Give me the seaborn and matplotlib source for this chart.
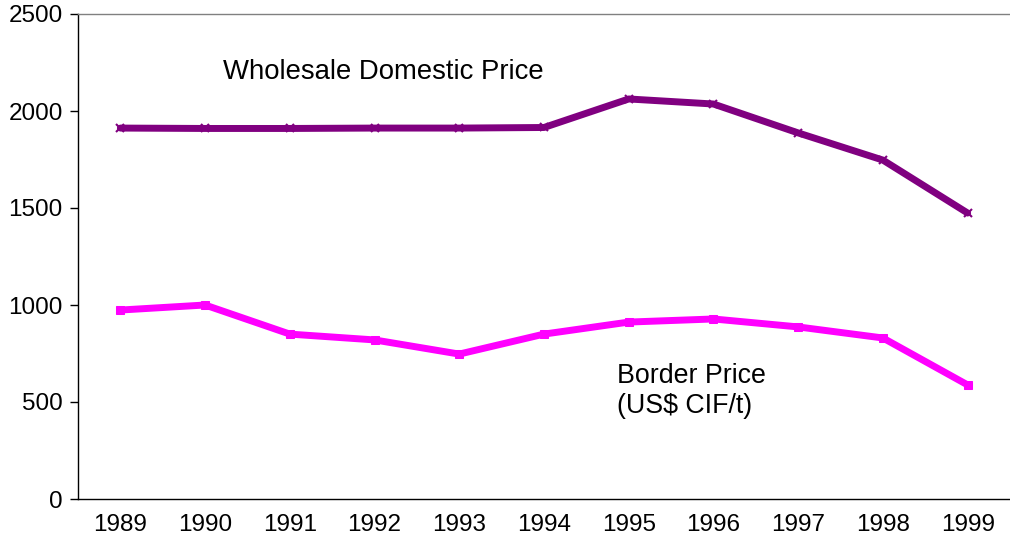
import pandas as pd
import numpy as np
import matplotlib
matplotlib.use("Agg")
import matplotlib.pyplot as plt
import seaborn as sns

years = ['1989', '1990', '1991', '1992', '1993', '1994', '1995', '1996', '1997', '1998', '1999']
wholesale = [1912, 1910, 1910, 1912, 1912, 1915, 2062, 2036, 1887, 1747, 1474]
border = [974, 1000, 850, 820, 747, 850, 912, 928, 887, 830, 588]

df = pd.DataFrame({'Year': years, 'Wholesale': wholesale, 'Border': border})

sns.set_theme(style="white")
plt.rcParams['font.family'] = ['Liberation Sans', 'DejaVu Sans']
plt.rcParams['text.color'] = 'black'

fig = plt.figure(figsize=(10.1, 5.42), dpi=100)
ax = fig.add_axes([78 / 1010, 43 / 542, 932 / 1010, 485 / 542])

sns.lineplot(data=df, x='Year', y='Wholesale', ax=ax, color='#800080', lw=5,
             marker='x', markersize=6, markeredgewidth=1.5, markeredgecolor='#800080')
sns.lineplot(data=df, x='Year', y='Border', ax=ax, color='#FF00FF', lw=5,
             marker='s', markersize=6, markeredgecolor='#FF00FF')

ax.set_ylim(0, 2500)
ax.set_yticks(np.arange(0, 2501, 500))
ax.set_xlim(-0.5, 10.375)
ax.set_xticks(range(len(years)))
ax.set_xticklabels(years)
ax.set_xticks(np.arange(-0.5, 11, 1), minor=True)
ax.tick_params(axis='x', which='major', length=0, labelsize=17.5, pad=11, colors='black')
ax.tick_params(axis='x', which='minor', length=5, width=1, color='black', direction='out')
ax.tick_params(axis='y', length=6, width=1, labelsize=17.5, pad=5, direction='out', colors='black', left=True)
ax.set_xlabel('')
ax.set_ylabel('')

for s in ['left', 'bottom']:
    ax.spines[s].set_color('black')
    ax.spines[s].set_linewidth(1)
ax.spines['top'].set_color('#808080')
ax.spines['top'].set_linewidth(1)
ax.spines['right'].set_visible(False)

ax.text(1.215, 2200, 'Wholesale Domestic Price', fontsize=19.8, va='center', ha='left', color='black')
ax.text(5.86, 634, 'Border Price', fontsize=19.3, va='center', ha='left', color='black')
ax.text(5.86, 478, '(US$ CIF/t)', fontsize=19.3, va='center', ha='left', color='black')

fig.savefig('out.png', dpi=100)
